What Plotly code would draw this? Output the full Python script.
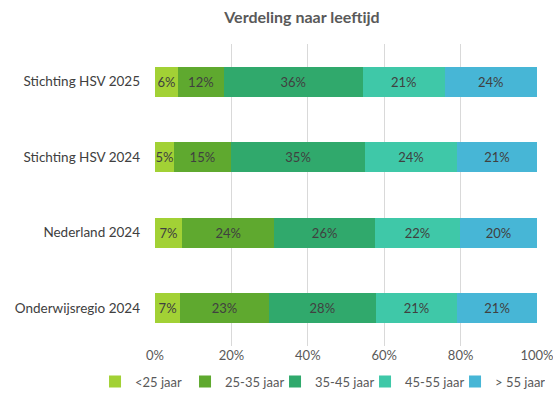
import plotly.graph_objects as go

categories = ["Stichting HSV 2025", "Stichting HSV 2024", "Nederland 2024", "Onderwijsregio 2024"]
series_names = ["<25 jaar", "25-35 jaar", "35-45 jaar", "45-55 jaar", "> 55 jaar"]
lt25 = [6.0, 4.9, 7.1, 6.6]
s25_35 = [12.0, 15.0, 24.1, 23.2]
s35_45 = [36.4, 35.1, 26.4, 28.0]
s45_55 = [21.4, 24.0, 22.2, 21.3]
gt55 = [24.2, 21.0, 20.2, 20.9]
colors = ["#a2d135", "#5fa92f", "#30a96c", "#3fc8a8", "#47b6d6"]
tick_vals = [0, 20, 40, 60, 80, 100]
tick_text = ["0%", "20%", "40%", "60%", "80%", "100%"]

series = [lt25, s25_35, s35_45, s45_55, gt55]

FONT = "Lato"
W, H = 553, 412

fig = go.Figure()
for name, vals, col in zip(series_names, series, colors):
    fig.add_trace(go.Bar(
        y=categories, x=vals, name=name, orientation="h",
        marker=dict(color=col, line=dict(width=0)),
        texttemplate="%{x:.0f}%", textposition="inside", insidetextanchor="middle",
        textangle=0,
        textfont=dict(color="#404040", size=13, family=FONT),
        constraintext="none", cliponaxis=False,
    ))

fig.update_layout(
    barmode="stack",
    bargap=0.6,
    width=W, height=H,
    margin=dict(l=155, r=16, t=44, b=66, autoexpand=False),
    paper_bgcolor="white", plot_bgcolor="white",
    font=dict(family=FONT, size=13, color="#404040"),
    title=dict(text="<b>Verdeling naar leeftijd</b>", x=302/W, xanchor="center", xref="container",
               y=1 - 17/H, yanchor="middle",
               font=dict(size=16, color="#595959", family=FONT)),
    xaxis=dict(range=[0, 100], tickvals=tick_vals, ticktext=tick_text, showgrid=True,
               gridcolor="#d9d9d9", gridwidth=1, zeroline=False, showline=False, ticks="",
               automargin=False, ticklabeloverflow="allow",
               tickfont=dict(size=13, color="#595959", family=FONT)),
    yaxis=dict(autorange="reversed", showgrid=False, ticks="", ticklen=0,
               automargin=False, ticklabelstandoff=14, ticklabeloverflow="allow",
               tickfont=dict(size=13.5, color="#404040", family=FONT)),
    legend=dict(orientation="h", x=-0.157, xanchor="left", y=-0.068, yanchor="top",
                font=dict(size=13, color="#595959", family=FONT), traceorder="normal",
                itemwidth=30, entrywidth=45, entrywidthmode="pixels", tracegroupgap=0),
    uniformtext=dict(minsize=8, mode="show"),
)

fig.write_html("out.html", config={"displayModeBar": False},
               post_script="document.body.style.margin='0';document.body.style.overflow='hidden';")
